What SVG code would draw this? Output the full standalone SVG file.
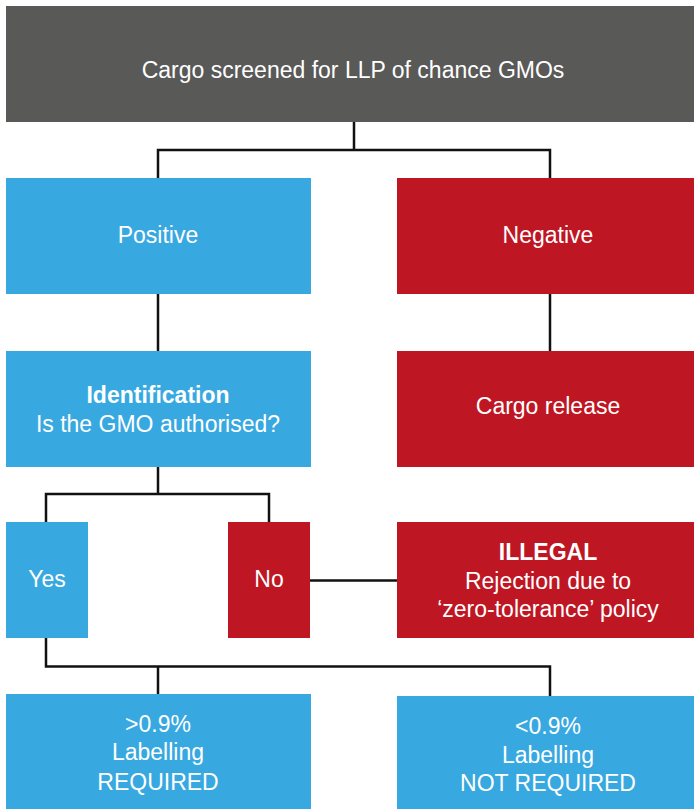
<svg xmlns="http://www.w3.org/2000/svg" width="694" height="809" viewBox="0 0 694 809">
<style>
.t{font-family:"Liberation Sans",Arial,Helvetica,sans-serif;font-size:23px;fill:#ffffff;text-anchor:middle}
.b{font-weight:bold}
.grey{fill:#595957}
.blue{fill:#38a8e0}
.red{fill:#be1622}
.c{fill:none;stroke:#111111;stroke-width:2.5}
</style>
<rect width="694" height="809" fill="#ffffff"/>
<g id="connectors">
<path class="c" d="M354 122V150M158 178V150H550V178"/>
<path class="c" d="M158 294V351M550 294V351"/>
<path class="c" d="M158 467V494M46 522V494H269V522"/>
<path class="c" d="M310 580.5H397"/>
<path class="c" d="M46 638V666.5H550V696M158 666.5V694"/>
</g>
<g id="screen"><rect class="grey" x="6" y="6" width="688" height="116"/><text class="t" x="353" y="78">Cargo screened for LLP of chance GMOs</text></g>
<g id="positive"><rect class="blue" x="6" y="178" width="305" height="116"/><text class="t" x="158" y="243">Positive</text></g>
<g id="negative"><rect class="red" x="397" y="178" width="297" height="116"/><text class="t" x="548" y="243">Negative</text></g>
<g id="identification"><rect class="blue" x="6" y="351" width="305" height="116"/><text class="t b" x="158" y="403">Identification</text><text class="t" x="158" y="432">Is the GMO authorised?</text></g>
<g id="release"><rect class="red" x="397" y="351" width="297" height="116"/><text class="t" x="548" y="414">Cargo release</text></g>
<g id="yes"><rect class="blue" x="6" y="522" width="82" height="116"/><text class="t" x="47" y="587">Yes</text></g>
<g id="no"><rect class="red" x="228" y="522" width="82" height="116"/><text class="t" x="269" y="587">No</text></g>
<g id="illegal"><rect class="red" x="397" y="522" width="297" height="116"/><text class="t b" x="548" y="560">ILLEGAL</text><text class="t" x="548" y="589">Rejection due to</text><text class="t" x="548" y="617">‘zero-tolerance’ policy</text></g>
<g id="required"><rect class="blue" x="6" y="694" width="305" height="115"/><text class="t" x="158" y="732">&gt;0.9%</text><text class="t" x="158" y="760">Labelling</text><text class="t" x="158" y="790">REQUIRED</text></g>
<g id="notrequired"><rect class="blue" x="397" y="696" width="297" height="113"/><text class="t" x="548" y="734">&lt;0.9%</text><text class="t" x="548" y="763">Labelling</text><text class="t" x="548" y="791">NOT REQUIRED</text></g>
</svg>
